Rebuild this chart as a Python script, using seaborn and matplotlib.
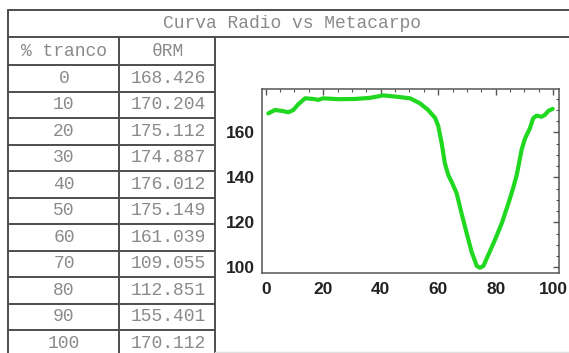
import numpy as np
import pandas as pd
import matplotlib.pyplot as plt
from matplotlib.ticker import MultipleLocator
import seaborn as sns

# tabla
tranco = [0, 10, 20, 30, 40, 50, 60, 70, 80, 90, 100]
theta_rm = ["168.426", "170.204", "175.112", "174.887", "176.012", "175.149",
            "161.039", "109.055", "112.851", "155.401", "170.112"]

# curva
curva_x = [0.9, 3.2, 5.6, 7.9, 9.6, 11.3, 13.7, 16.6, 18.3, 20.0, 25.2, 31.0,
           36.3, 40.9, 45.5, 50.2, 53.6, 56.5, 58.9, 60.0, 61.2, 62.3, 63.5,
           65.0, 66.4, 68.1, 69.9, 71.6, 73.4, 74.5, 75.7, 77.4, 79.7, 82.1,
           84.4, 86.0, 87.3, 89.0, 90.2, 91.9, 93.0, 94.2, 95.9, 97.1, 98.3, 99.8]
curva_y = [168.4, 169.9, 169.5, 168.9, 169.9, 172.4, 175.1, 174.8, 174.4, 175.1,
           174.7, 174.8, 175.3, 176.4, 175.8, 175.1, 172.9, 169.9, 166.4, 162.8,
           155.1, 146.2, 141.0, 137.0, 132.9, 124.0, 115.1, 106.9, 100.6, 99.8,
           100.6, 105.5, 112.1, 119.6, 128.4, 135.0, 141.0, 152.3, 157.3, 161.8,
           166.2, 167.4, 166.9, 167.7, 169.5, 170.4]

sns.set_style("white")
plt.rcParams["font.family"] = ["Liberation Sans", "DejaVu Sans"]

fig = plt.figure(figsize=(5.69, 3.53), dpi=100)

# fondo en pixeles para la tabla
bg = fig.add_axes([0, 0, 1, 1])
bg.set_xlim(0, 569)
bg.set_ylim(353, 0)
bg.axis("off")

lc = "#4d4d4d"
lw = 1.4
x_l, x_c, x_r = 8.5, 119.3, 215.5
bg.plot([x_l, 580], [10, 10], color=lc, lw=lw)
bg.plot([x_l, 580], [37, 37], color=lc, lw=lw)
bg.plot([x_l, x_l], [10, 360], color=lc, lw=lw)
bg.plot([x_c, x_c], [37, 360], color=lc, lw=lw)
bg.plot([x_r, x_r], [37, 360], color=lc, lw=lw)
row_h = 26.5
y0 = 65
for k in range(len(tranco)):
    yy = y0 + k * row_h
    bg.plot([x_l, x_r], [yy, yy], color=lc, lw=lw)
bg.plot([x_r, 569], [352, 352], color="#e0e0e0", lw=1)

tfont = dict(family=["Liberation Mono", "DejaVu Sans Mono"], size=13, color="#8a8a8a",
             ha="center", va="center")
bg.text(292, 23.5, "Curva Radio vs Metacarpo", **tfont)
bg.text((x_l + x_c) / 2, 51, "% tranco", **tfont)
bg.text((x_c + x_r) / 2, 51, "\u03b8RM", **tfont)
for k, (t, v) in enumerate(zip(tranco, theta_rm)):
    yc = y0 + (k + 0.5) * row_h
    bg.text((x_l + x_c) / 2, yc, str(t), **tfont)
    bg.text((x_c + x_r) / 2 + 0.5, yc, v, **tfont)

# grafico
ax = fig.add_axes([261.7 / 569, 1 - 272.7 / 353, (559 - 261.7) / 569, (272.7 - 89.3) / 353])
df = pd.DataFrame({"tranco": curva_x, "theta": curva_y})
sns.lineplot(data=df, x="tranco", y="theta", ax=ax, color="#1fd81f", linewidth=3, sort=False)
ax.set_xlim(-1.4, 102)
ax.set_ylim(97.6, 179.1)
ax.set_xlabel("")
ax.set_ylabel("")
ax.xaxis.set_major_locator(MultipleLocator(20))
ax.xaxis.set_minor_locator(MultipleLocator(5))
ax.yaxis.set_major_locator(MultipleLocator(20))
ax.yaxis.set_minor_locator(MultipleLocator(5))
ax.tick_params(which="both", direction="in", top=True, right=True, colors="#555555")
ax.tick_params(which="major", length=4, width=1)
ax.tick_params(which="minor", length=2.5, width=0.8)
ax.tick_params(axis="x", which="major", pad=7, labelcolor="#222222")
ax.tick_params(axis="y", which="major", pad=5, labelcolor="#222222")
for lab in ax.get_xticklabels() + ax.get_yticklabels():
    lab.set_fontweight("bold")
    lab.set_fontsize(12.5)
for s in ax.spines.values():
    s.set_color("#555555")
    s.set_linewidth(1.1)

fig.savefig("out.png", dpi=100)
